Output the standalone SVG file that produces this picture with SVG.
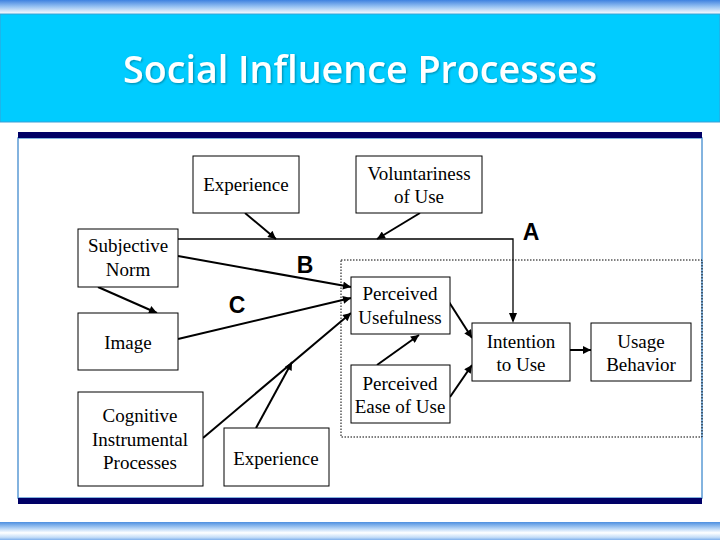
<svg xmlns="http://www.w3.org/2000/svg" width="720" height="540" viewBox="0 0 720 540">
<defs>
<linearGradient id="topbar" x1="0" y1="0" x2="0" y2="1">
<stop offset="0" stop-color="#3f82e0"/>
<stop offset="0.5" stop-color="#9cc5f3"/>
<stop offset="1" stop-color="#ffffff"/>
</linearGradient>
<linearGradient id="botbar" x1="0" y1="0" x2="0" y2="1">
<stop offset="0" stop-color="#4d8fe0"/>
<stop offset="0.35" stop-color="#b3d3f6"/>
<stop offset="0.6" stop-color="#ffffff"/>
<stop offset="0.85" stop-color="#c4ddf8"/>
<stop offset="1" stop-color="#7fb0ec"/>
</linearGradient>
<filter id="shadow" x="-5%" y="-20%" width="110%" height="140%">
<feDropShadow dx="1" dy="1" stdDeviation="0.8" flood-color="#000" flood-opacity="0.35"/>
</filter>
<marker id="arr" viewBox="0 0 10 10" refX="10" refY="5" markerUnits="userSpaceOnUse" markerWidth="10" markerHeight="8" orient="auto">
<path d="M0,0 L10,5 L0,10 z" fill="#000"/>
</marker>
</defs>
<style>
.box{fill:#fff;stroke:#000;stroke-width:1}
.t{font-family:"Liberation Serif","Times New Roman",serif;font-size:19px;fill:#000;text-anchor:middle}
.lbl{font-family:"Liberation Sans",Arial,sans-serif;font-size:23px;font-weight:bold;fill:#000;text-anchor:middle}
.c{fill:none;stroke:#000;stroke-width:2;marker-end:url(#arr)}
.thin{fill:none;stroke:#000;stroke-width:1.3}
</style>
<rect x="0" y="0" width="720" height="540" fill="#fff"/>
<g id="background">
<rect x="0" y="0" width="720" height="14" fill="url(#topbar)"/>
<rect x="0" y="14" width="720" height="108" fill="#00ccff" stroke="#3a9fd6" stroke-width="1"/>
<text x="360" y="83" font-family="'Open Sans','Noto Sans',sans-serif" font-weight="600" font-size="37" fill="#ffffff" text-anchor="middle" textLength="474" lengthAdjust="spacingAndGlyphs" filter="url(#shadow)">Social Influence Processes</text>
<rect x="18" y="138" width="684" height="360" fill="#fff" stroke="#5b9bd5" stroke-width="1.5"/>
<rect x="18" y="132" width="684" height="6" fill="#000066"/>
<rect x="18" y="498" width="684" height="6" fill="#000066"/>
<rect x="0" y="522" width="720" height="18" fill="url(#botbar)"/>
</g>
<rect id="tam-region" x="341" y="260" width="361" height="177" fill="none" stroke="#000" stroke-width="1" stroke-dasharray="1.5,1.5"/>
<g id="connectors">
<path class="thin" d="M178,239 H513 V321" />
<path d="M513,323 l-4,-10 h8 z" fill="#000"/>
<path class="c" d="M245,213 L276,239"/>
<path class="c" d="M420,213 L377,239"/>
<path class="c" d="M178,256 L351,287"/>
<path class="c" d="M98,287 L157,313"/>
<path class="c" d="M178,339 L351,298"/>
<path class="c" d="M203,438 L351,313"/>
<path class="c" d="M256,428 L292,362"/>
<path class="c" d="M377,365 L419,335"/>
<path class="c" d="M449,302 L472,338"/>
<path class="c" d="M450,397 L472,365"/>
<path class="c" d="M570,350 L591,350"/>
</g>
<g id="labels">
<text class="lbl" x="531" y="240">A</text>
<text class="lbl" x="305" y="273">B</text>
<text class="lbl" x="237" y="313">C</text>
</g>
<g id="experience-top">
<rect class="box" x="193" y="156" width="106" height="57"/>
<text class="t" x="246" y="191">Experience</text>
</g>
<g id="voluntariness">
<rect class="box" x="356" y="156" width="126" height="57"/>
<text class="t" x="419" y="180">Voluntariness</text>
<text class="t" x="419" y="203">of Use</text>
</g>
<g id="subjective-norm">
<rect class="box" x="78" y="229" width="100" height="58"/>
<text class="t" x="128" y="252">Subjective</text>
<text class="t" x="128" y="276">Norm</text>
</g>
<g id="image">
<rect class="box" x="78" y="313" width="100" height="57"/>
<text class="t" x="128" y="349">Image</text>
</g>
<g id="cognitive">
<rect class="box" x="78" y="392" width="125" height="94"/>
<text class="t" x="140" y="422">Cognitive</text>
<text class="t" x="140" y="446">Instrumental</text>
<text class="t" x="140" y="469">Processes</text>
</g>
<g id="experience-bottom">
<rect class="box" x="224" y="428" width="105" height="58"/>
<text class="t" x="276" y="465">Experience</text>
</g>
<g id="perceived-usefulness">
<rect class="box" x="351" y="277" width="99" height="57"/>
<text class="t" x="400" y="300">Perceived</text>
<text class="t" x="400" y="324">Usefulness</text>
</g>
<g id="perceived-ease">
<rect class="box" x="351" y="365" width="99" height="58"/>
<text class="t" x="400" y="390">Perceived</text>
<text class="t" x="400" y="413">Ease of Use</text>
</g>
<g id="intention">
<rect class="box" x="472" y="323" width="98" height="58"/>
<text class="t" x="521" y="348">Intention</text>
<text class="t" x="521" y="371">to Use</text>
</g>
<g id="usage">
<rect class="box" x="591" y="323" width="100" height="58"/>
<text class="t" x="641" y="348">Usage</text>
<text class="t" x="641" y="371">Behavior</text>
</g>
</svg>
